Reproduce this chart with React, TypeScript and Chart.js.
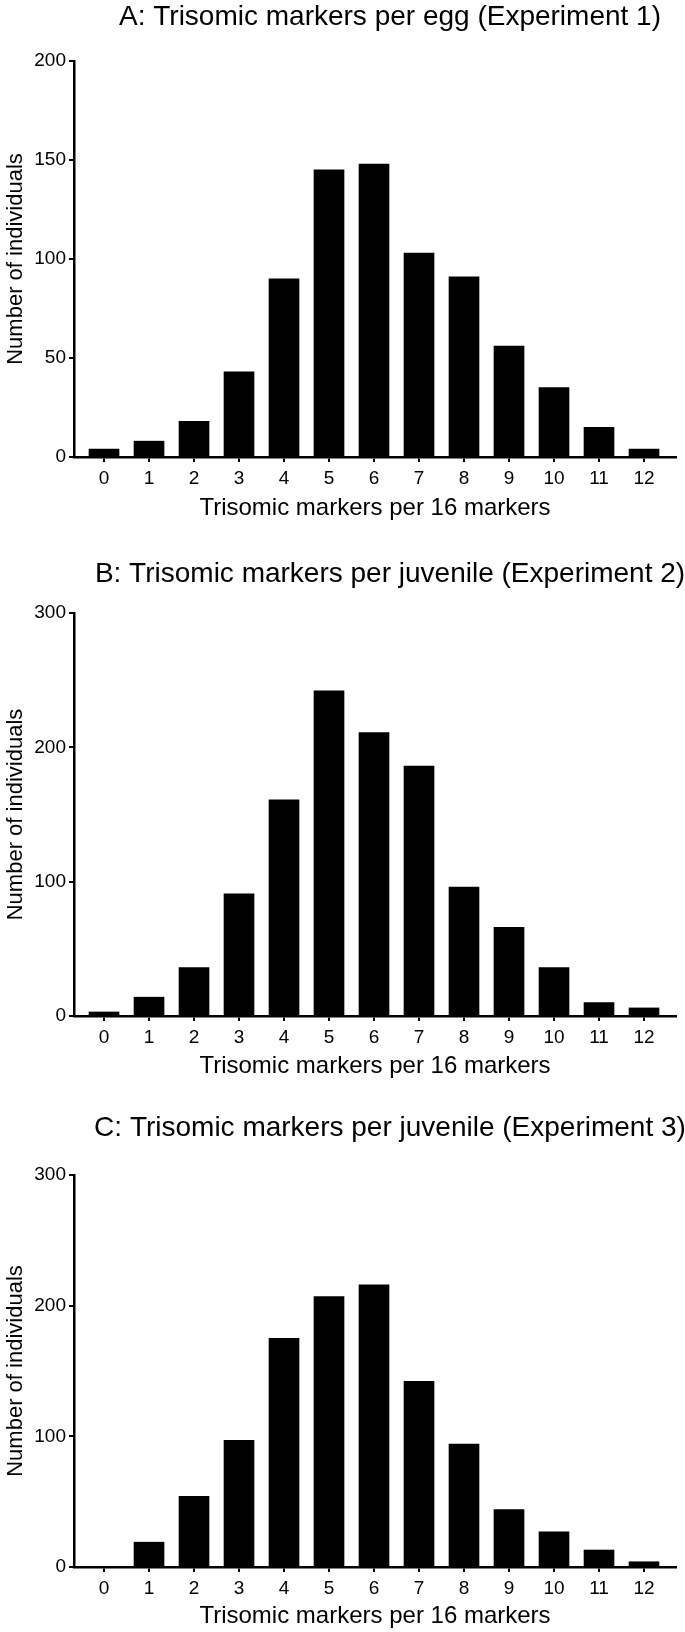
import React, { useEffect, useRef } from "react";
import { Chart, registerables } from "chart.js";

Chart.register(...registerables);

const FONT = '"Liberation Sans", Arial, sans-serif';

// Shared categories: number of trisomic markers per 16 markers
const categories = [0, 1, 2, 3, 4, 5, 6, 7, 8, 9, 10, 11, 12];

// Panel A: eggs (Experiment 1)
const titleA = "A: Trisomic markers per egg (Experiment 1)";
const valuesA = [4, 8, 18, 43, 90, 145, 148, 103, 91, 56, 35, 15, 4];
const yTicksA = [0, 50, 100, 150, 200];

// Panel B: juveniles (Experiment 2)
const titleB = "B: Trisomic markers per juvenile (Experiment 2)";
const valuesB = [3, 14, 36, 91, 161, 242, 211, 186, 96, 66, 36, 10, 6];
const yTicksB = [0, 100, 200, 300];

// Panel C: juveniles (Experiment 3)
const titleC = "C: Trisomic markers per juvenile (Experiment 3)";
const valuesC = [0, 19, 54, 97, 175, 207, 216, 142, 94, 44, 27, 13, 4];
const yTicksC = [0, 100, 200, 300];

const xTitle = "Trisomic markers per 16 markers";
const yTitle = "Number of individuals";

const titlePlugin = {
  id: "panelTitle",
  afterDraw(chart: any, _args: any, opts: any) {
    const { ctx, chartArea } = chart;
    ctx.save();
    ctx.font = `${opts.size}px ${FONT}`;
    ctx.fillStyle = "#000";
    ctx.textAlign = "center";
    ctx.textBaseline = "middle";
    ctx.fillText(opts.text, (chartArea.left + chartArea.right) / 2 + opts.dx, opts.y);
    ctx.restore();
  },
};

type PanelProps = {
  title: string;
  values: number[];
  yTicks: number[];
  height: number;
  plotTop: number;
  xAxisHeight: number;
  padBottom: number;
  titleY: number;
};

function Panel(p: PanelProps) {
  const ref = useRef<HTMLCanvasElement | null>(null);
  useEffect(() => {
    if (!ref.current) return;
    const yMax = p.yTicks[p.yTicks.length - 1];
    const step = p.yTicks[1] - p.yTicks[0];
    const chart = new Chart(ref.current, {
      type: "bar",
      data: {
        datasets: [
          {
            data: categories.map((c, i) => ({ x: c, y: p.values[i] })),
            backgroundColor: "#000",
            borderWidth: 0,
            barThickness: 30,
          },
        ],
      },
      plugins: [titlePlugin],
      options: {
        responsive: false,
        maintainAspectRatio: false,
        animation: false,
        devicePixelRatio: 1,
        layout: { padding: { top: p.plotTop, left: 0, right: 9, bottom: p.padBottom } },
        plugins: {
          legend: { display: false },
          tooltip: { enabled: false },
          title: { display: false },
          panelTitle: { text: p.title, size: 28, dx: 15, y: p.titleY },
        } as any,
        scales: {
          x: {
            type: "linear",
            offset: false,
            min: -0.667,
            max: 12.711,
            afterBuildTicks: (scale: any) => {
              scale.ticks = categories.map((c) => ({ value: c }));
            },
            afterFit: (scale: any) => {
              scale.height = p.xAxisHeight;
            },
            ticks: {
              color: "#000",
              font: { family: FONT, size: 19 },
              padding: 5,
              maxRotation: 0,
              autoSkip: false,
              callback: (v: any) => String(v),
            },
            grid: {
              display: true,
              offset: false,
              drawOnChartArea: false,
              drawTicks: true,
              tickLength: 5,
              color: "#000",
              lineWidth: 2,
            },
            border: { display: true, color: "#000", width: 2.5 },
            title: {
              display: true,
              text: xTitle,
              color: "#000",
              font: { family: FONT, size: 24 },
              padding: { top: 0, bottom: 0 },
            },
          },
          y: {
            type: "linear",
            min: 0,
            max: yMax,
            afterBuildTicks: (scale: any) => {
              scale.ticks = p.yTicks.map((v) => ({ value: v }));
            },
            afterFit: (scale: any) => {
              scale.width = 74;
            },
            ticks: {
              stepSize: step,
              color: "#000",
              font: { family: FONT, size: 19 },
              padding: 3,
            },
            grid: {
              display: true,
              drawOnChartArea: false,
              drawTicks: true,
              tickLength: 5,
              color: "#000",
              lineWidth: 2,
            },
            border: { display: true, color: "#000", width: 2.5 },
            title: {
              display: true,
              text: yTitle,
              color: "#000",
              font: { family: FONT, size: 22 },
              padding: { top: 3, bottom: 0 },
            },
          },
        },
      } as any,
    });
    return () => chart.destroy();
  }, []);
  return (
    <canvas
      ref={ref}
      width={685}
      height={p.height}
      style={{ display: "block", width: "685px", height: `${p.height}px` }}
    />
  );
}

export default function App() {
  return (
    <div style={{ position: "absolute", left: 0, top: 0, width: 685, background: "#fff" }}>
      <Panel title={titleA} values={valuesA} yTicks={yTicksA} height={540} plotTop={61} xAxisHeight={66} padBottom={17} titleY={17} />
      <Panel title={titleB} values={valuesB} yTicks={yTicksB} height={560} plotTop={73} xAxisHeight={65} padBottom={19} titleY={34} />
      <Panel title={titleC} values={valuesC} yTicks={yTicksC} height={532} plotTop={75} xAxisHeight={64} padBottom={1} titleY={28} />
    </div>
  );
}
